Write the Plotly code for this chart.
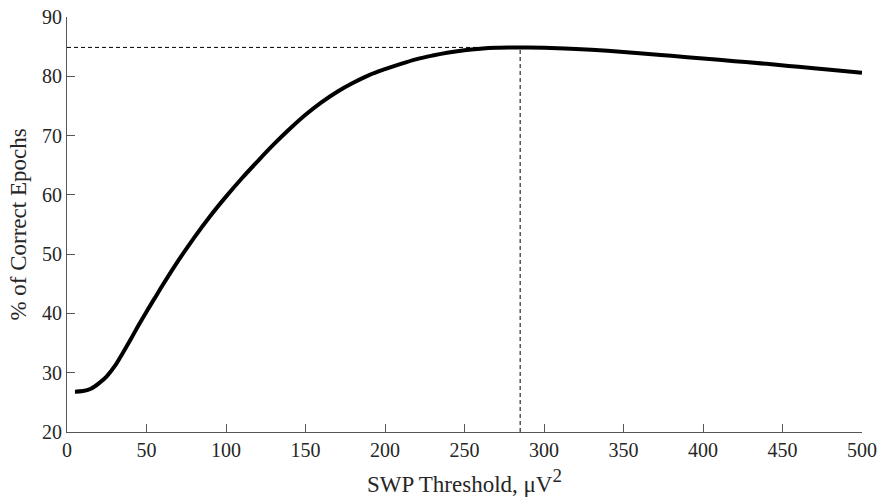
import plotly.graph_objects as go

threshold = [5, 10, 15, 20, 25, 30, 35, 40, 45, 50, 55, 60, 70, 80, 90, 100, 110, 120, 130, 140, 150,
             160, 170, 180, 190, 200, 210, 220, 230, 240, 250, 260, 270, 280, 285, 290,
             300, 320, 340, 360, 380, 400, 420, 440, 460, 480, 500]
correct = [26.8, 26.9, 27.3, 28.2, 29.4, 31.1, 33.3, 35.6, 38.0, 40.3, 42.5, 44.7, 48.9, 52.8, 56.4,
           59.7, 62.8, 65.7, 68.5, 71.1, 73.5, 75.6, 77.4, 78.9, 80.2, 81.2, 82.1, 82.9, 83.5,
           84.0, 84.4, 84.65, 84.8, 84.85, 84.87, 84.86, 84.8, 84.6, 84.3, 83.9, 83.45, 83.0,
           82.55, 82.1, 81.6, 81.1, 80.6]
best_x = 285
best_y = 84.87

font = "Liberation Serif, Times New Roman, serif"
fig = go.Figure()
fig.add_trace(go.Scatter(x=[0, best_x], y=[best_y, best_y], mode="lines",
                         line=dict(color="black", width=1, dash="4px,3px"), hoverinfo="skip"))
fig.add_trace(go.Scatter(x=[best_x, best_x], y=[20, best_y], mode="lines",
                         line=dict(color="black", width=1, dash="4px,3px"), hoverinfo="skip"))
fig.add_trace(go.Scatter(x=threshold, y=correct, mode="lines",
                         line=dict(color="black", width=4, shape="spline", smoothing=1.0)))

axis_common = dict(showgrid=False, zeroline=False, showline=True, linecolor="#555555", linewidth=1,
                   ticks="inside", ticklen=8, tickcolor="#555555", tickwidth=1, automargin=False,
                   tickfont=dict(family=font, size=20, color="#262626"))
fig.update_layout(
    width=879, height=502, showlegend=False,
    plot_bgcolor="white", paper_bgcolor="white",
    margin=dict(l=67, r=17, t=17, b=70),
    xaxis=dict(range=[0, 500], tickvals=list(range(0, 501, 50)),
               title=dict(text="SWP Threshold, μV<sup><span style='font-size:19px'>2</span></sup>",
                          font=dict(family=font, size=23, color="#262626"), standoff=15),
               **axis_common),
    yaxis=dict(range=[20, 90], tickvals=list(range(20, 91, 10)),
               title=dict(text="% of Correct Epochs", font=dict(family=font, size=23, color="#262626"), standoff=8),
               **axis_common),
)
fig.write_html("out.html")
